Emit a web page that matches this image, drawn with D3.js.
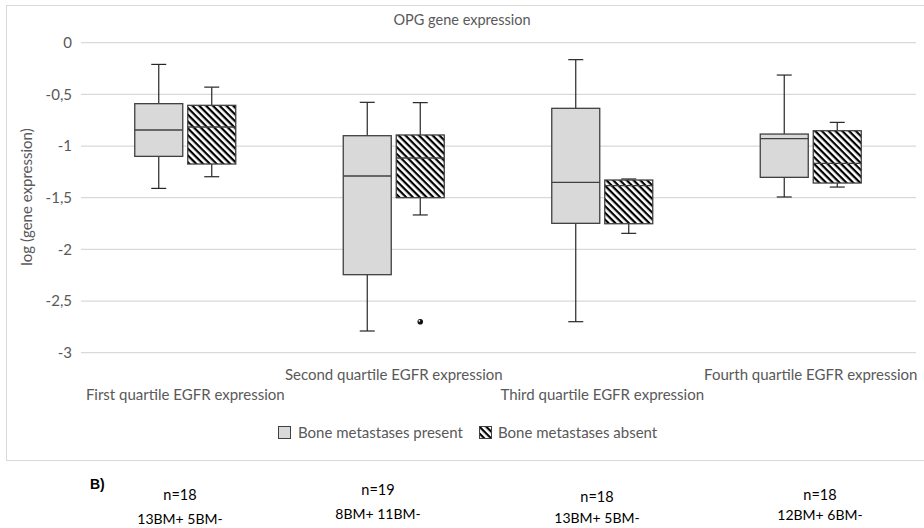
<!DOCTYPE html>
<html><head><meta charset="utf-8">
<script src="https://cdn.jsdelivr.net/npm/d3@7/dist/d3.min.js"></script>
<style>body{margin:0;background:#fff}svg{display:block}</style>
</head><body><svg id="c" width="924" height="528"></svg>
<script>
const categories = ["First quartile EGFR expression","Second quartile EGFR expression","Third quartile EGFR expression","Fourth quartile EGFR expression"];
const seriesNames = ["Bone metastases present","Bone metastases absent"];
// [whiskerLow, q1, median, q3, whiskerHigh]
const presentStats = [
  [-1.41,-1.10,-0.845,-0.59,-0.21],
  [-2.79,-2.245,-1.29,-0.90,-0.577],
  [-2.70,-1.748,-1.351,-0.635,-0.164],
  [-1.493,-1.303,-0.929,-0.884,-0.313]
];
const absentStats = [
  [-1.297,-1.174,-0.816,-0.606,-0.43],
  [-1.667,-1.50,-1.116,-0.893,-0.58],
  [-1.845,-1.752,-1.384,-1.329,-1.319],
  [-1.397,-1.358,-1.167,-0.852,-0.771]
];
const absentOutliers = [[], [-2.70], [], []];
const yTicks = [0,-0.5,-1,-1.5,-2,-2.5,-3];
const nLabels = ["n=18","n=19","n=18","n=18"];
const bmLabels = ["13BM+ 5BM-","8BM+ 11BM-","13BM+ 5BM-","12BM+ 6BM-"];

const svg = d3.select("#c");
const font = "Lato, 'Open Sans', sans-serif";
const gray = "#595959";

// outer chart border
svg.append("rect").attr("x",6.5).attr("y",5.5).attr("width",930).attr("height",455)
  .attr("fill","none").attr("stroke","#d9d9d9");

const defs = svg.append("defs");
const pat = defs.append("pattern").attr("id","hatch").attr("patternUnits","userSpaceOnUse")
  .attr("width",4.8).attr("height",4.8).attr("patternTransform","rotate(45)");
pat.append("rect").attr("width",4.8).attr("height",4.8).attr("fill","#fff");
pat.append("rect").attr("x",0).attr("y",0).attr("width",4.8).attr("height",2.2).attr("fill","#000");

const x0 = d3.scaleBand().domain(categories).range([81,915]);
const y = d3.scaleLinear().domain([-3,0]).range([352.7,42.7]);

// gridlines
svg.append("g").selectAll("line").data(yTicks).join("line")
  .attr("x1",81).attr("x2",916).attr("y1",d=>y(d)).attr("y2",d=>y(d))
  .attr("stroke","#d9d9d9").attr("stroke-width",1.2);

// y axis labels
const fmt = d => d===0 ? "0" : String(d).replace(".",",");
const yAxis = d3.axisLeft(y).tickValues(yTicks).tickFormat(fmt).tickSize(0).tickPadding(9);
const ya = svg.append("g").attr("transform","translate(81,0)").call(yAxis);
ya.select(".domain").remove();
ya.selectAll("text").attr("font-family",font).attr("font-size",15).attr("fill",gray);

// y axis title
svg.append("text").attr("transform","translate(32,197) rotate(-90)").attr("text-anchor","middle")
  .attr("font-family",font).attr("font-size",15).attr("fill",gray).text("log (gene expression)");

// title
svg.append("text").attr("x",462).attr("y",25).attr("text-anchor","middle")
  .attr("font-family",font).attr("font-size",14.5).attr("fill",gray).text("OPG gene expression");

const boxW = 48, off = 26.5, cap = 15;
function drawBoxes(stats, sign, fill, outliers){
  const g = svg.append("g");
  stats.forEach((s,i)=>{
    const cx = x0(categories[i]) + x0.bandwidth()/2 + sign*off;
    const [lo,q1,med,q3,hi] = s;
    g.append("line").attr("x1",cx).attr("x2",cx).attr("y1",y(hi)).attr("y2",y(q3)).attr("stroke","#262626").attr("stroke-width",1.2);
    g.append("line").attr("x1",cx).attr("x2",cx).attr("y1",y(q1)).attr("y2",y(lo)).attr("stroke","#262626").attr("stroke-width",1.2);
    g.append("line").attr("x1",cx-cap/2).attr("x2",cx+cap/2).attr("y1",y(hi)).attr("y2",y(hi)).attr("stroke","#262626").attr("stroke-width",1.2);
    g.append("line").attr("x1",cx-cap/2).attr("x2",cx+cap/2).attr("y1",y(lo)).attr("y2",y(lo)).attr("stroke","#262626").attr("stroke-width",1.2);
    g.append("rect").attr("x",cx-boxW/2).attr("y",y(q3)).attr("width",boxW).attr("height",y(q1)-y(q3))
      .attr("fill",fill).attr("stroke","#404040").attr("stroke-width",1.3);
    g.append("line").attr("x1",cx-boxW/2).attr("x2",cx+boxW/2).attr("y1",y(med)).attr("y2",y(med)).attr("stroke","#404040").attr("stroke-width",1.3);
    outliers[i].forEach(o=>{
      g.append("circle").attr("cx",cx).attr("cy",y(o)).attr("r",2.8).attr("fill","#111");
      g.append("circle").attr("cx",cx-0.9).attr("cy",y(o)-0.9).attr("r",0.9).attr("fill","#fff");
    });
  });
}
drawBoxes(presentStats,-1,"#d9d9d9",[[],[],[],[]]);
drawBoxes(absentStats,1,"url(#hatch)",absentOutliers);

// category labels (staggered)
svg.append("g").selectAll("text").data(categories).join("text")
  .attr("x",d=>x0(d)+x0.bandwidth()/2).attr("y",(d,i)=> i%2===0 ? 400 : 380)
  .attr("text-anchor","middle").attr("font-family",font).attr("font-size",15).attr("fill",gray).text(d=>d);

// legend
const lg = svg.append("g");
lg.append("rect").attr("x",278.5).attr("y",426.5).attr("width",12).attr("height",12).attr("fill","#d9d9d9").attr("stroke","#404040");
lg.append("text").attr("x",298).attr("y",438).attr("font-family",font).attr("font-size",15).attr("fill",gray).text(seriesNames[0]);
lg.append("rect").attr("x",479.5).attr("y",426.5).attr("width",12).attr("height",12).attr("fill","url(#hatch)").attr("stroke","#404040");
lg.append("text").attr("x",498).attr("y",438).attr("font-family",font).attr("font-size",15).attr("fill",gray).text(seriesNames[1]);

// bottom annotations
svg.append("text").attr("x",90).attr("y",489).attr("font-family","'Liberation Sans', Arial, sans-serif").attr("font-weight","bold").attr("font-size",14).attr("fill","#000").text("B)");
const nX = [180,378,597,820];
const nY = [500,495,502,500];
const bY = [524,519,523,520];
nLabels.forEach((t,i)=>{
  svg.append("text").attr("x",nX[i]).attr("y",nY[i]).attr("text-anchor","middle").attr("font-family",font).attr("font-size",14.5).attr("fill","#000").text(t);
  svg.append("text").attr("x",nX[i]).attr("y",bY[i]).attr("text-anchor","middle").attr("font-family",font).attr("font-size",14).attr("fill","#000").text(bmLabels[i]);
});
</script></body></html>
